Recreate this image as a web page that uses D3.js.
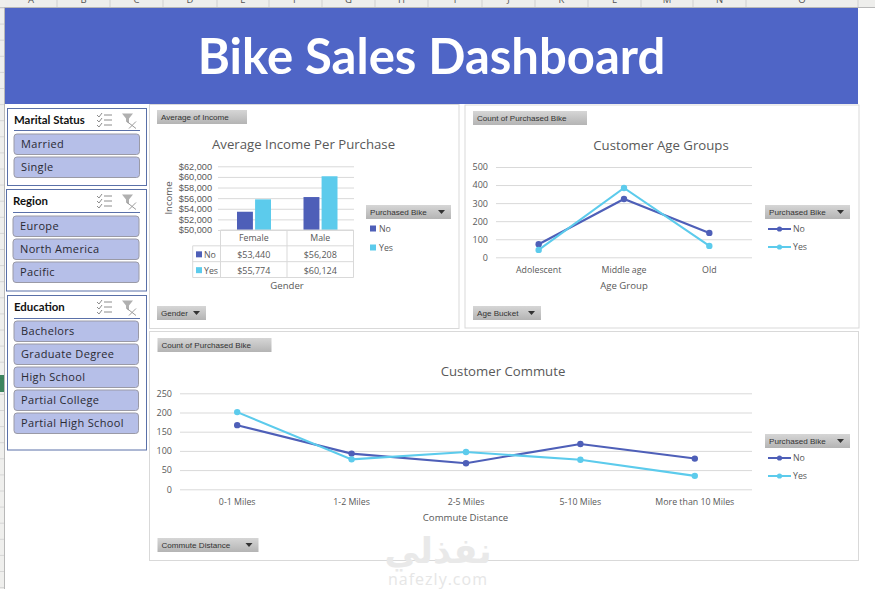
<!DOCTYPE html>
<html>
<head>
<meta charset="utf-8">
<script src="https://cdn.jsdelivr.net/npm/d3@7"></script>
<style>
  html, body { margin: 0; padding: 0; background: #fff; }
  svg { display: block; }
  text { font-family: "Open Sans", sans-serif; }
</style>
</head>
<body>
<svg id="main" width="875" height="589"></svg>
<script>
const columnLetters = ['A','B','C','D','E','F','G','H','I','J','K','L','M','N','O'];
const maritalItems = ['Married','Single'];
const regionItems = ['Europe','North America','Pacific'];
const educationItems = ['Bachelors','Graduate Degree','High School','Partial College','Partial High School'];

const seriesNames = ['No','Yes'];

const genders = ['Female','Male'];
const incomeNo = [53440,56208];
const incomeYes = [55774,60124];
const incomeTicks = [50000,52000,54000,56000,58000,60000,62000];

const ageGroups = ['Adolescent','Middle age','Old'];
const ageNo = [72,323,135];
const ageYes = [41,384,63];
const ageTicks = [0,100,200,300,400,500];

const commuteGroups = ['0-1 Miles','1-2 Miles','2-5 Miles','5-10 Miles','More than 10 Miles'];
const commuteNo = [167,93,68,118,80];
const commuteYes = [201,78,97,77,35];
const commuteTicks = [0,50,100,150,200,250];

const blue = '#4e5fb8', cyan = '#5ccbec', grid = '#d9d9d9', txt = '#595959';
const colors = [blue, cyan];

let svg = d3.select('#main');

let defs = svg.append('defs');
let btnGrad = defs.append('linearGradient').attr('id','btn').attr('x1',0).attr('y1',0).attr('x2',0).attr('y2',1);
btnGrad.append('stop').attr('offset','0%').attr('stop-color','#d6d6d6');
btnGrad.append('stop').attr('offset','100%').attr('stop-color','#b4b4b4');

// excel sheet behind the dashboard
function drawSheet(){
  svg.append('rect').attr('width',875).attr('height',8).attr('fill','#eeeeec');
  svg.append('rect').attr('width',4.5).attr('height',589).attr('fill','#efefed');
  svg.append('line').attr('x1',0).attr('x2',875).attr('y1',7.5).attr('y2',7.5).attr('stroke','#b8b8b8');
  svg.append('line').attr('x1',4.5).attr('x2',4.5).attr('y1',8).attr('y2',589).attr('stroke','#b8b8b8');
  let edges = [5,57,110,163,217,269,322,375,428,482,535,588,641,693,746,858];
  columnLetters.forEach((c,i)=>{
    svg.append('line').attr('x1',edges[i+1]).attr('x2',edges[i+1]).attr('y1',0).attr('y2',7).attr('stroke','#d0d0d0');
    svg.append('text').attr('x',(edges[i]+edges[i+1])/2).attr('y',3).attr('text-anchor','middle')
      .attr('font-size',9.5).attr('fill','#555').text(c);
  });
  d3.range(8,589,16.1).forEach(y=>{
    svg.append('line').attr('x1',0).attr('x2',4).attr('y1',y).attr('y2',y).attr('stroke','#d6d6d6');
  });
  svg.append('rect').attr('x',0).attr('y',375).attr('width',4).attr('height',17).attr('fill','#1d7144').attr('opacity',0.85);
}

function drawHeader(){
  svg.append('rect').attr('x',5).attr('y',8).attr('width',853).attr('height',96).attr('fill','#4f65c6');
  svg.append('text').attr('x',431.5).attr('y',74).attr('text-anchor','middle')
    .style('font-family','Lato, sans-serif').attr('font-weight',700).attr('font-size',49).attr('fill','#fff')
    .text('Bike Sales Dashboard');
}

function drawSlicer(title, items, b){
  let g = svg.append('g');
  g.append('rect').attr('x',b.x).attr('y',b.y).attr('width',b.w).attr('height',b.h)
    .attr('fill','#fff').attr('stroke','#5a70a8').attr('stroke-width',1);
  g.append('text').attr('x',b.ix).attr('y',b.y+15.2).style('font-family','Lato, sans-serif')
    .attr('font-weight',700).attr('font-size',11.4).attr('fill','#111').text(title);
  g.append('line').attr('x1',b.ix).attr('x2',140).attr('y1',b.lineY).attr('y2',b.lineY).attr('stroke','#5a70a8');
  // multi select icon
  let ic = g.append('g').attr('transform',`translate(97,${b.y+5})`).attr('fill','none').attr('stroke','#8c8c8c').attr('stroke-width',1);
  [1.5,6.5,11.5].forEach(y=>{
    ic.append('path').attr('d',`M0 ${y}l2 2l3 -4`);
    ic.append('line').attr('x1',7).attr('x2',15).attr('y1',y).attr('y2',y);
  });
  // clear filter icon
  let fl = g.append('g').attr('transform',`translate(122,${b.y+5})`);
  fl.append('path').attr('d','M0 0H11L7 5V10L4 8V5Z').attr('fill','#b0b0b0');
  fl.append('path').attr('d','M5 8L14 15M14 8L7 15').attr('stroke','#9a9a9a').attr('fill','none');

  let itemY = d3.scaleBand().domain(items).range([b.firstY, b.firstY+items.length*b.step]);
  g.selectAll('g.item').data(items).enter().append('g').attr('class','item').each(function(d){
    let it = d3.select(this);
    it.append('rect').attr('x',b.ix).attr('y',itemY(d)).attr('width',b.iw).attr('height',20.5).attr('rx',3)
      .attr('fill','#b6bfe8').attr('stroke','#9a9aa6');
    it.append('text').attr('x',b.ix+7).attr('y',itemY(d)+13.8).attr('font-size',11).attr('letter-spacing',0.35)
      .attr('fill','#2a2a33').text(d);
  });
}

function fieldButton(x,y,w,label,arrow){
  let g = svg.append('g');
  g.append('rect').attr('x',x).attr('y',y).attr('width',w).attr('height',14).attr('fill','url(#btn)');
  g.append('text').attr('x',x+4).attr('y',y+10).style('font-family','"Liberation Sans", sans-serif').attr('font-size',8.1)
    .attr('fill','#333').text(label);
  if(arrow) g.append('path').attr('d',`M${x+w-13} ${y+5}h7l-3.5 4z`).attr('fill','#333');
}

function panel(x,y,w,h){
  svg.append('rect').attr('x',x).attr('y',y).attr('width',w).attr('height',h)
    .attr('fill','#fff').attr('stroke','#d9d9d9').attr('stroke-width',1);
}

function chartText(x,y,s,size,anchor){
  return svg.append('text').attr('x',x).attr('y',y).attr('text-anchor',anchor||'middle')
    .attr('font-size',size).attr('fill',txt).text(s);
}

function yAxis(scale,ticks,x1,x2,fmt){
  let ax = svg.append('g').attr('transform',`translate(${x1},0)`)
    .call(d3.axisLeft(scale).tickValues(ticks).tickSize(-(x2-x1)).tickPadding(8).tickFormat(fmt));
  ax.select('.domain').remove();
  ax.selectAll('line').attr('stroke',grid);
  ax.selectAll('text').attr('fill',txt).attr('font-size',9).style('font-family','"Open Sans", sans-serif');
  return ax;
}

function lineChart(o){
  panel(o.x,o.y,o.w,o.h);
  fieldButton(o.x+8,o.fieldY,114,'Count of Purchased Bike');
  chartText(o.titleX,o.titleY,o.title,13.2);
  let y = d3.scaleLinear().domain(d3.extent(o.ticks)).range([o.bottom,o.top]);
  let x = d3.scaleBand().domain(o.cats).range([o.left,o.right]);
  yAxis(y,o.ticks,o.left,o.right,d3.format('d'));
  let xa = svg.append('g').attr('transform',`translate(0,${o.bottom})`).call(d3.axisBottom(x).tickSize(0).tickPadding(9));
  xa.select('.domain').remove();
  xa.selectAll('text').attr('fill',txt).attr('font-size',8.8).style('font-family','"Open Sans", sans-serif');
  chartText(o.titleX2,o.bottom+32,o.xTitle,9.6);

  let line = d3.line().x((d,i)=>x(o.cats[i])+x.bandwidth()/2).y(d=>y(d));
  [o.no,o.yes].forEach((vals,k)=>{
    svg.append('path').attr('d',line(vals)).attr('fill','none').attr('stroke',colors[k]).attr('stroke-width',2.1);
    svg.selectAll(null).data(vals).enter().append('circle')
      .attr('cx',(d,i)=>x(o.cats[i])+x.bandwidth()/2).attr('cy',d=>y(d)).attr('r',3.2).attr('fill',colors[k]);
  });

  fieldButton(765,o.legY,85,'Purchased Bike',true);
  seriesNames.forEach((s,k)=>{
    let ly = o.legY+24+k*18;
    svg.append('line').attr('x1',768).attr('x2',791).attr('y1',ly).attr('y2',ly).attr('stroke',colors[k]).attr('stroke-width',2);
    svg.append('circle').attr('cx',779.5).attr('cy',ly).attr('r',2.6).attr('fill',colors[k]);
    chartText(793,ly+3,s,8.8,'start');
  });
  fieldButton(o.x+8,o.btnY,o.btnW,o.btnLabel,true);
}

function barChart(){
  panel(149.5,104.5,309.5,224);
  fieldButton(157,110,90,'Average of Income');
  chartText(303.5,149,'Average Income Per Purchase',13.2);

  let top = 166.3, bottom = 230;
  let y = d3.scaleLinear().domain(d3.extent(incomeTicks)).range([bottom,top]);
  let x0 = d3.scaleBand().domain(genders).range([220.5,353.5]);
  let x1 = d3.scaleBand().domain(seriesNames).range([16.5,50.5]).paddingInner(0.12);
  let ax = yAxis(y,incomeTicks,218,354,d3.format('$,d'));
  // labels sit close together here, this font is shorter
  ax.selectAll('text').attr('x',-6).attr('font-size',9.2).style('font-family','"Liberation Sans", sans-serif');

  chartText(0,0,'Income',9.6).attr('transform','translate(172,198) rotate(-90)');

  [incomeNo,incomeYes].forEach((vals,k)=>{
    svg.selectAll(null).data(vals).enter().append('rect')
      .attr('x',(d,i)=>x0(genders[i])+x1(seriesNames[k]))
      .attr('y',d=>y(d)).attr('width',x1.bandwidth()).attr('height',d=>bottom-y(d)).attr('fill',colors[k]);
  });

  // data table under the plot
  let rowY = d3.scaleBand().domain(['head','No','Yes']).range([bottom,277.5]);
  let tableX = 192.7, colLeft = 220.5, right = 353.5;
  let tbl = svg.append('g').attr('stroke','#d9d9d9').attr('fill','none');
  tbl.append('line').attr('x1',colLeft).attr('x2',right).attr('y1',bottom).attr('y2',bottom);
  ['No','Yes'].forEach(r=>{
    tbl.append('line').attr('x1',tableX).attr('x2',right).attr('y1',rowY(r)).attr('y2',rowY(r));
  });
  tbl.append('line').attr('x1',tableX).attr('x2',right).attr('y1',277.5).attr('y2',277.5);
  tbl.append('line').attr('x1',tableX).attr('x2',tableX).attr('y1',rowY('No')).attr('y2',277.5);
  [colLeft,x0('Male'),right].forEach(v=>{
    tbl.append('line').attr('x1',v).attr('x2',v).attr('y1',bottom).attr('y2',277.5);
  });
  genders.forEach((g,i)=>{
    let cx = x0(g)+x0.bandwidth()/2;
    chartText(cx,rowY('head')+11,g,8.8);
    chartText(cx,rowY('No')+12,d3.format('$,d')(incomeNo[i]),9);
    chartText(cx,rowY('Yes')+12,d3.format('$,d')(incomeYes[i]),9);
  });
  seriesNames.forEach((s,k)=>{
    svg.append('rect').attr('x',196).attr('y',rowY(s)+5.5).attr('width',6).attr('height',6).attr('fill',colors[k]);
    chartText(204,rowY(s)+12,s,8.8,'start');
  });
  chartText(287,289,'Gender',9.6);

  fieldButton(366,205,85,'Purchased Bike',true);
  seriesNames.forEach((s,k)=>{
    let ly = 228+k*19;
    svg.append('rect').attr('x',370).attr('y',ly-2.5).attr('width',6).attr('height',6).attr('fill',colors[k]);
    chartText(379,ly+3.5,s,8.8,'start');
  });
  fieldButton(157,306,49,'Gender',true);
}

function drawWatermark(){
  svg.append('text').attr('x',438).attr('y',563).attr('text-anchor','middle')
    .style('font-family','"DejaVu Sans", sans-serif').attr('font-weight',700).attr('font-size',35)
    .attr('fill','#e9e9e9').text('نفذلي');
  svg.append('text').attr('x',438).attr('y',585).attr('text-anchor','middle')
    .attr('font-size',16).attr('letter-spacing',1).attr('fill','#e6e6e6').text('nafezly.com');
}

drawSheet();
drawHeader();
drawSlicer('Marital Status',maritalItems,{x:7.5,y:108.5,w:139,h:77,ix:14,iw:125.5,lineY:130.5,firstY:134,step:23});
drawSlicer('Region',regionItems,{x:6.5,y:189.5,w:140,h:101.5,ix:13,iw:126,lineY:212.5,firstY:216,step:23});
drawSlicer('Education',educationItems,{x:7.5,y:295.5,w:139,h:154.5,ix:14,iw:124.5,lineY:318.5,firstY:321,step:23});
barChart();
lineChart({x:465,y:105,w:394,h:223,fieldY:111,title:'Customer Age Groups',titleX:661,titleY:150,titleX2:624,
  cats:ageGroups,no:ageNo,yes:ageYes,ticks:ageTicks,left:496,right:752,top:167,bottom:257.3,
  xTitle:'Age Group',legY:205,btnY:306,btnW:68,btnLabel:'Age Bucket'});
lineChart({x:149.5,y:331.5,w:709,h:229,fieldY:338,title:'Customer Commute',titleX:503,titleY:376,titleX2:465.5,
  cats:commuteGroups,no:commuteNo,yes:commuteYes,ticks:commuteTicks,left:180,right:752,top:393.3,bottom:489.3,
  xTitle:'Commute Distance',legY:434,btnY:538,btnW:101,btnLabel:'Commute Distance'});
drawWatermark();
</script>
</body>
</html>
